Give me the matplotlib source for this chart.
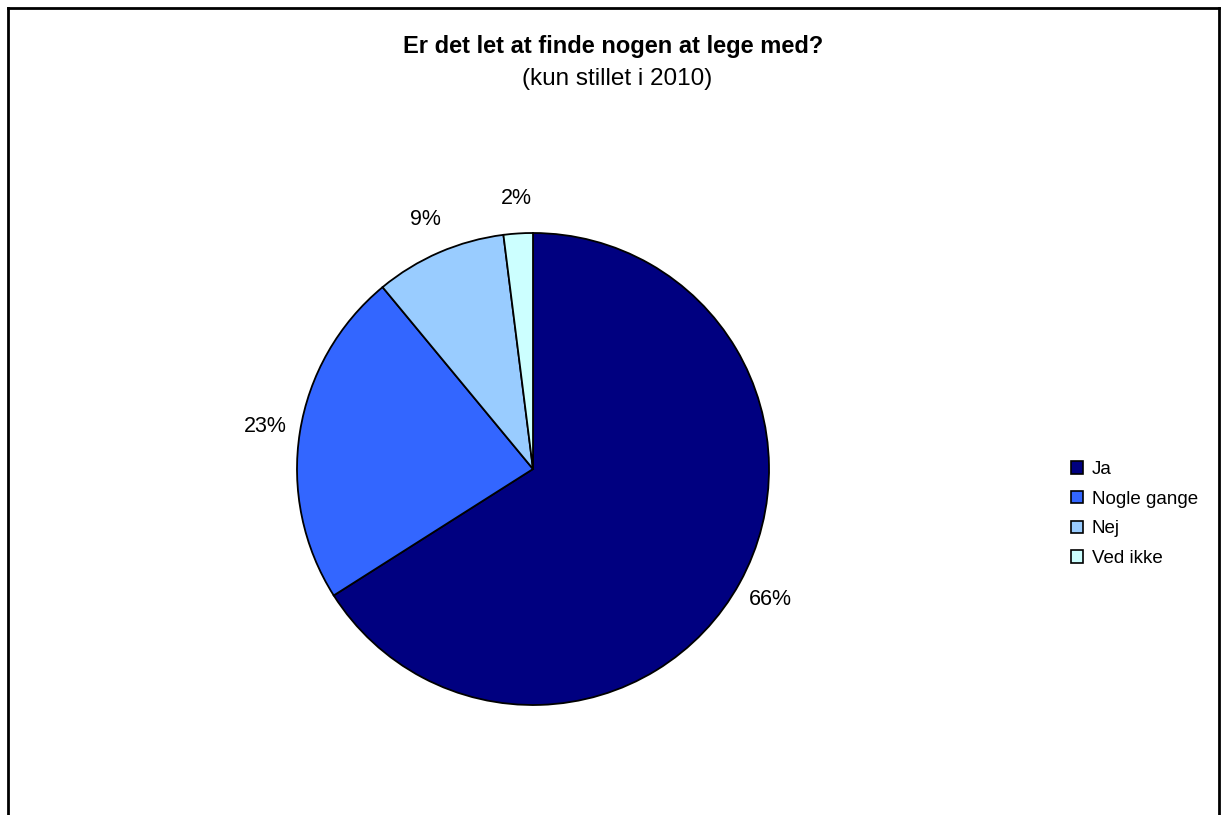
import numpy as np
import matplotlib.pyplot as plt
from matplotlib.patches import Patch
from matplotlib.lines import Line2D

# data
kategorier = ['Ja', 'Nogle gange', 'Nej', 'Ved ikke']
andele = [66, 23, 9, 2]
farver = ['#000080', '#3366FF', '#99CCFF', '#CCFFFF']

plt.rcParams['font.family'] = ['Liberation Sans', 'DejaVu Sans']

W, H = 1226, 815
fig = plt.figure(figsize=(W / 100, H / 100), dpi=100)

# pie axes: center (533, 469), radius 236 px
cx, cy, r = 533, 469, 236
ax = fig.add_axes([(cx - r) / W, (H - cy - r) / H, 2 * r / W, 2 * r / H])
wedges, tekster, pct = ax.pie(andele, colors=farver, startangle=90, counterclock=False,
                              radius=1.0, labels=None,
                              autopct=lambda p: f'{p:.0f}%', pctdistance=1.15,
                              wedgeprops=dict(edgecolor='black', linewidth=1.3),
                              textprops=dict(fontsize=15.5, color='black'))
ax.set_xlim(-1, 1)
ax.set_ylim(-1, 1)
ax.set_aspect('equal')
ax.axis('off')

# titel
fig.text(613 / W, 1 - 47 / H, 'Er det let at finde nogen at lege med?',
         ha='center', va='center', fontsize=17, fontweight='bold')
fig.text(617 / W, 1 - 79 / H, '(kun stillet i 2010)',
         ha='center', va='center', fontsize=17.5)

# legende
handles = [Patch(facecolor=c, edgecolor='black', linewidth=1.2) for c in farver]
fig.legend(handles, kategorier, loc='center left', bbox_to_anchor=(1071 / W, 1 - 514 / H),
           frameon=False, fontsize=13.5, handlelength=0.65, handleheight=0.65,
           handletextpad=0.45, labelspacing=0.68, borderpad=0, borderaxespad=0)

# ramme (bund ikke synlig)
lw = 2
x0, x1, y0 = 7.5 / W, 1218.5 / W, 1 - 7.5 / H
fig.add_artist(Line2D([x0, x0], [-0.01, y0], color='black', lw=lw))
fig.add_artist(Line2D([x0, x1], [y0, y0], color='black', lw=lw))
fig.add_artist(Line2D([x1, x1], [-0.01, y0], color='black', lw=lw))

fig.savefig('out.png', dpi=100, facecolor='white')
